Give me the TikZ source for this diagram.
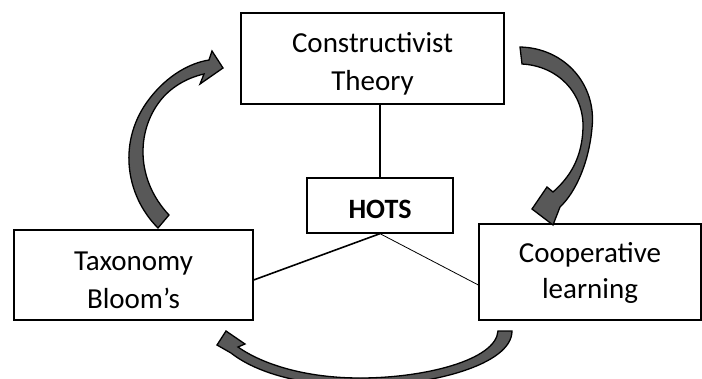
\documentclass[tikz,border=0pt]{standalone}
\usepackage{fontspec}
\setmainfont{Carlito}
\usetikzlibrary{positioning}
\definecolor{arrowgray}{RGB}{88,88,88}

\begin{document}
\begin{tikzpicture}[x=1pt,y=-1pt,
    box node/.style={rectangle,draw,line width=1.3pt,align=center,inner sep=0pt,
      font=\fontsize{29}{38}\selectfont,text depth=0pt},
    hots node/.style={box node,font=\fontsize{28}{34}\selectfont\bfseries},
    block arrow/.style={fill=arrowgray,draw=black,line width=1.3pt,line join=miter}
    ]
  \useasboundingbox (0,0) rectangle (702,378);

  \node[box node,minimum width=263pt,minimum height=91pt,text height=63pt] (theory) at (372.5,58.5) {Constructivist\\Theory};
  \node[hots node,minimum width=146pt,minimum height=55pt,text height=25pt] (hots) at (380,205.5) {HOTS};
  \node[box node,minimum width=239pt,minimum height=90pt,text height=66pt] (bloom) at (133.5,275) {Taxonomy\\Bloom’s};
  \node[box node,minimum width=222pt,minimum height=96pt,text height=53pt,
        font=\fontsize{29}{36}\selectfont] (coop) at (590,272) {Cooperative\\learning};

  \path (hots.north) edge[line width=1.6pt] (hots.north |- theory.south)
        (hots.south) edge[line width=1.6pt] ([yshift=-5pt]bloom.east)
        (hots.south) edge[line width=0.8pt] ([yshift=-13pt]coop.west);

  % curved block arrows
  \draw[block arrow] (158,228) .. controls (125,195) and (117,140) .. (150,98)
    .. controls (168,75) and (190,63) .. (209,60) -- (212,51) -- (223,68) -- (200,84) -- (204,74)
    .. controls (186,78) and (170,88) .. (160,101) .. controls (136,132) and (136,180) .. (169,215) -- cycle;
  \draw[block arrow] (520,47) .. controls (565,48) and (597,85) .. (592,128)
    .. controls (589,162) and (576,192) .. (560,207) -- (553,225) -- (532,209) -- (547,187) -- (553,192)
    .. controls (570,177) and (582,158) .. (583,128) .. controls (584,93) and (558,66) .. (522,64) -- cycle;
  \begin{scope}
    \clip (0,0) rectangle (702,378);
    \draw[block arrow] (512,331) .. controls (512,365) and (430,386) .. (360,386)
      .. controls (300,386) and (255,372) .. (231,353) -- (217,345) -- (226,331) -- (245,344) -- (238,347)
      .. controls (262,364) and (305,378) .. (360,378) .. controls (425,378) and (496,360) .. (498,331) -- cycle;
  \end{scope}
\end{tikzpicture}
\end{document}
